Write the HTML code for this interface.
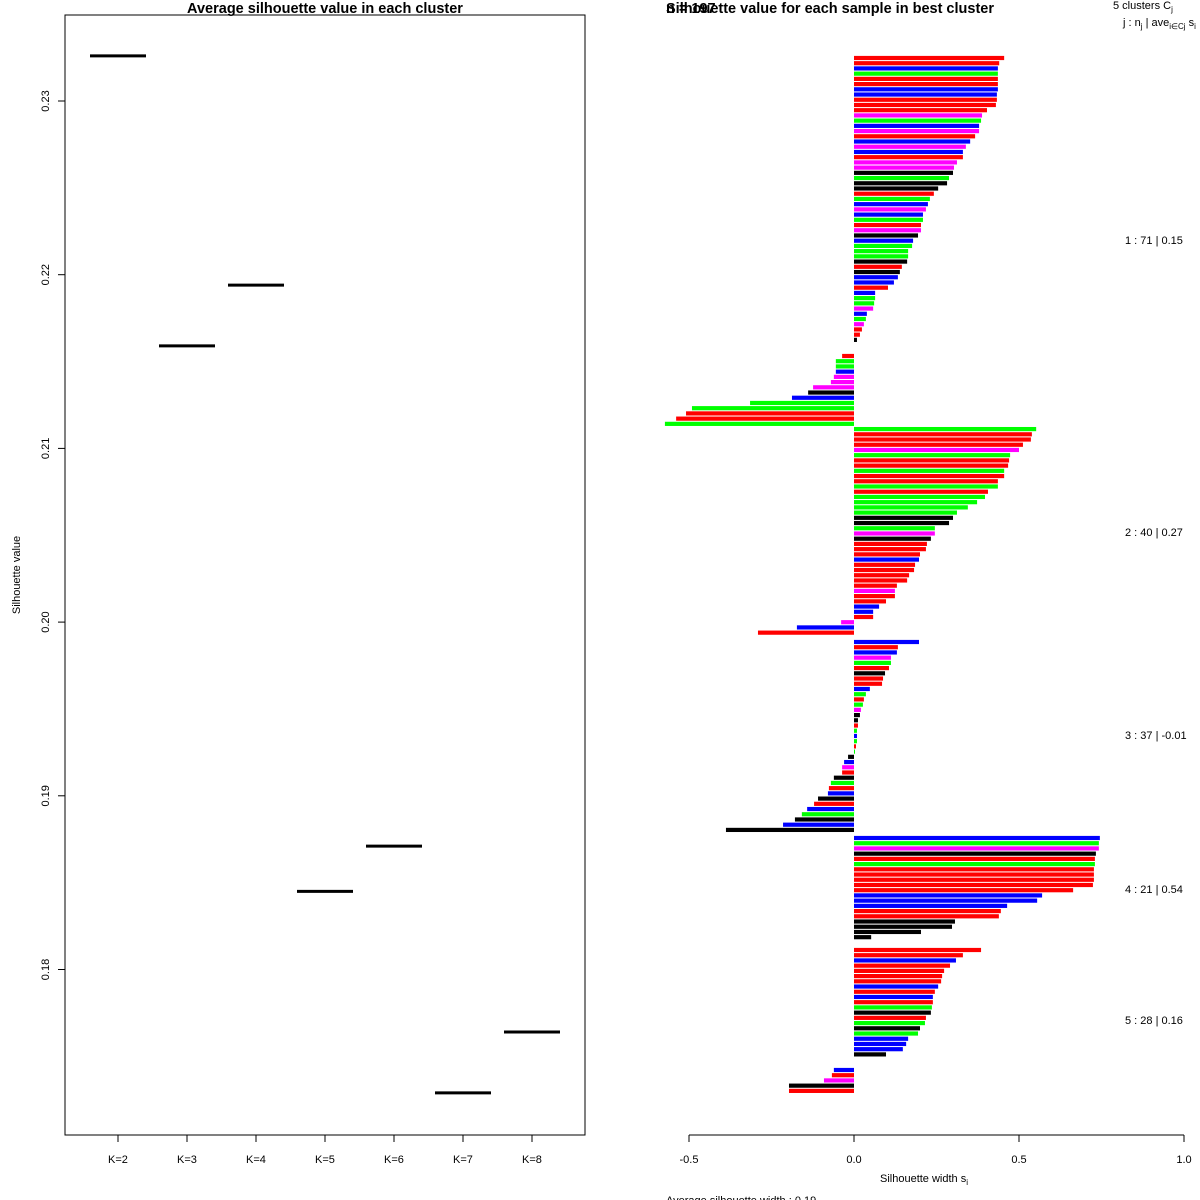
<!DOCTYPE html>
<html><head><meta charset="utf-8"><style>
body{margin:0;background:#fff}
svg{display:block;font-family:"Liberation Sans",Arial,sans-serif}
</style></head><body>
<svg id="chart" width="1200" height="1200" viewBox="0 0 1200 1200">
<rect x="0" y="0" width="1200" height="1200" fill="#fff"/>
<g id="left">
<rect x="65" y="15" width="520" height="1120" fill="none" stroke="#000" stroke-width="1"/>
<text x="325" y="13" text-anchor="middle" font-size="14.5" font-weight="bold">Average silhouette value in each cluster</text>
<text transform="translate(20,575) rotate(-90)" text-anchor="middle" font-size="11">Silhouette value</text>
</g>
<g id="right">
<text x="666" y="13" font-size="14.5" font-weight="bold" fill="#000">n = 197</text>
<text x="830" y="13" text-anchor="middle" font-size="14.5" font-weight="bold">Silhouette value for each sample in best cluster</text>
<text x="1113" y="9" font-size="11">5  clusters  C<tspan font-size="8" dy="3">j</tspan></text>
<text x="1123" y="26" font-size="11">j :  n<tspan font-size="8" dy="3">j</tspan><tspan dy="-3"> | ave</tspan><tspan font-size="8" dy="3">i∈Cj</tspan><tspan dy="-3">  s</tspan><tspan font-size="8" dy="3">i</tspan></text>
<line x1="689" y1="1135" x2="1184" y2="1135" stroke="#000"/>
<text x="924" y="1182" text-anchor="middle" font-size="11">Silhouette width s<tspan font-size="8" dy="3">i</tspan></text>
<text x="666" y="1204" font-size="11">Average silhouette width :  0.19</text>
</g>
</svg>
<script>
// ---- Left chart data ----
const kLabels = ["K=2","K=3","K=4","K=5","K=6","K=7","K=8"];
const kValues = [0.2326,0.2159,0.2194,0.1845,0.1871,0.1729,0.1764];
const yTicks = [0.18,0.19,0.20,0.21,0.22,0.23];
// ---- Right chart data ----
const barValues = [
[0.455,0.44,0.436,0.436,0.436,0.436,0.436,0.433,0.433,0.43,0.403,0.388,0.385,0.379,0.379,0.367,0.352,0.339,0.33,0.33,0.312,0.303,0.3,0.288,0.282,0.255,0.242,0.23,0.224,0.218,0.209,0.209,0.203,0.203,0.194,0.179,0.176,0.164,0.164,0.161,0.145,0.139,0.133,0.121,0.103,0.064,0.064,0.061,0.058,0.039,0.036,0.03,0.024,0.018,0.009],
[-0.036,-0.055,-0.055,-0.055,-0.061,-0.07,-0.124,-0.139,-0.188,-0.315,-0.491,-0.509,-0.539,-0.573,0.552,0.539,0.536,0.512,0.5,0.473,0.47,0.467,0.455,0.455,0.436,0.436,0.406,0.397,0.373,0.345,0.312,0.3,0.288,0.245,0.245,0.233,0.221,0.218,0.2,0.197,0.185,0.182,0.167,0.161,0.13,0.124,0.124,0.097,0.076,0.058,0.058,-0.039,-0.173,-0.291],
[0.197,0.133,0.13,0.112,0.112,0.106,0.094,0.088,0.085,0.048,0.036,0.03,0.027,0.021,0.018,0.012,0.012,0.009,0.009,0.009,0.006,0.003,-0.018,-0.03,-0.036,-0.036,-0.061,-0.07,-0.076,-0.079,-0.109,-0.121,-0.142,-0.158,-0.179,-0.215,-0.388],
[0.745,0.742,0.742,0.733,0.73,0.73,0.727,0.727,0.727,0.724,0.664,0.57,0.555,0.464,0.445,0.439,0.306,0.297,0.203,0.052],
[0.385,0.33,0.309,0.291,0.273,0.267,0.264,0.255,0.245,0.239,0.239,0.236,0.233,0.218,0.215,0.2,0.194,0.164,0.158,0.148,0.097],
[-0.061,-0.067,-0.091,-0.197,-0.197]
];
const barColors = [
"rrbgrrbbrrrmgbmrbmbrmmkgkkrgbmbgrmkbgggkrkbbrbggmbgmrrk",
"rggbmmmkbggrrggrrrmgrrgrrgrggggkkgmkrrrbrrrrrmrrbbrmbrr",
"brbmgrkrrbgrgmkkrgbgrgkbmrkgrbkrbgkbk",
"bgmkrgrrrrrbbbrrkkkk",
"rrbrrrrbrbrgkrgkgbbbk",
"brmkr"
];
const xTicks = [-0.5,0,0.5,1.0];
const clusterLabels = ["1 :  71  |  0.15","2 :  40  |  0.27","3 :  37  |  -0.01","4 :  21  |  0.54","5 :  28  |  0.16"];
const clusterLabelY = [240,532,735,889,1020];

const NS="http://www.w3.org/2000/svg";
const L=document.getElementById('left'), R=document.getElementById('right');
function mk(tag,attrs,parent,text){const e=document.createElementNS(NS,tag);for(const k in attrs)e.setAttribute(k,attrs[k]);if(text!==undefined)e.textContent=text;parent.appendChild(e);return e;}
const yL=v=>101+(0.23-v)*17370;
const xL=i=>118+i*69;
yTicks.forEach(t=>{
  const l=mk('line',{x1:58,x2:65,y1:yL(t),y2:yL(t),stroke:'#000'},L);
  
  
  const tx=mk('text',{transform:`translate(49,${yL(t)}) rotate(-90)`,'text-anchor':'middle','font-size':11},L,t.toFixed(2));
  
  
});
kLabels.forEach((k,i)=>{
  const l=mk('line',{x1:xL(i),x2:xL(i),y1:1135,y2:1142,stroke:'#000'},L);
  
  
  const tx=mk('text',{x:xL(i),y:1163,'text-anchor':'middle','font-size':11},L,k);
  
  
  const s=mk('line',{x1:xL(i)-28,x2:xL(i)+28,y1:yL(kValues[i]),y2:yL(kValues[i]),stroke:'#000','stroke-width':3},L);
  
  
});
const xR=v=>854+v*330;
xTicks.forEach(t=>{
  const l=mk('line',{x1:xR(t),x2:xR(t),y1:1135,y2:1142,stroke:'#000'},R);
  
  
  const tx=mk('text',{x:xR(t),y:1163,'text-anchor':'middle','font-size':11},R,t.toFixed(1));
  
  
});
const groupStart=[58,356,642,838,950,1070];
const pitch=5.22;
const cmap={r:'#ff0000',g:'#00ff00',b:'#0000ff',m:'#ff00ff',k:'#000000'};
barValues.forEach((grp,gi)=>{
  grp.forEach((v,i)=>{
    const yc=groupStart[gi]+i*pitch;
    const x0=Math.min(xR(0),xR(v)), w=Math.abs(xR(v)-xR(0));
    const r=mk('rect',{x:x0,y:yc-2.1,width:w,height:4.2,fill:cmap[barColors[gi][i]]||'#f00'},R);
    
    
  });
});
clusterLabels.forEach((c,i)=>{
  const tx=mk('text',{x:1125,y:clusterLabelY[i]+4,'font-size':11,'xml:space':'preserve'},R,c);
  
  
});
</script>
</body></html>
